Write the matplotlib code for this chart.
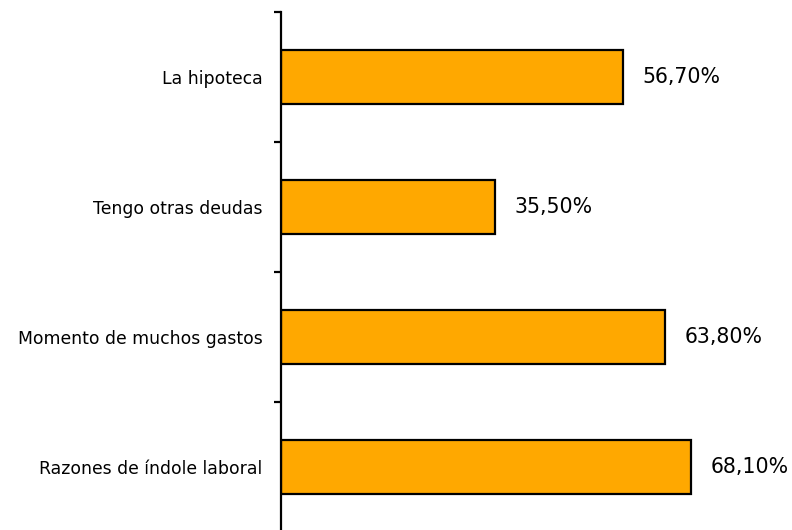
import matplotlib
matplotlib.use("Agg")
import matplotlib.pyplot as plt

categories = ["La hipoteca", "Tengo otras deudas", "Momento de muchos gastos", "Razones de índole laboral"]
values = [56.7, 35.5, 63.8, 68.1]
value_labels = ["56,70%", "35,50%", "63,80%", "68,10%"]

fig = plt.figure(figsize=(7.92, 5.30), dpi=100)
ax = fig.add_axes([281/792, -2/530, 1 - 281/792, 520/530])

y = list(range(len(categories)))
ax.barh(y, values, height=0.41, color="#FFA800", edgecolor="black", linewidth=1.6)
for yi, v, lab in zip(y, values, value_labels):
    ax.text(v + 3.2, yi, lab, va="center", ha="left", fontsize=14.8, family="DejaVu Sans")

ax.set_xlim(0, 84.8)
ax.set_ylim(3.5, -0.5)
ax.set_yticks([-0.5, 0.5, 1.5, 2.5, 3.5])
ax.set_yticklabels([])
ax.set_yticks(y, minor=True)
ax.set_yticklabels(categories, minor=True, fontsize=12.4, family="DejaVu Sans")
ax.tick_params(axis="y", which="minor", length=0, pad=13.5)
ax.tick_params(axis="y", which="major", length=5, width=1.6, direction="out")
ax.set_xticks([])
for s in ["top", "right", "bottom"]:
    ax.spines[s].set_visible(False)
ax.spines["left"].set_linewidth(1.6)

fig.savefig("out.png", dpi=100)
